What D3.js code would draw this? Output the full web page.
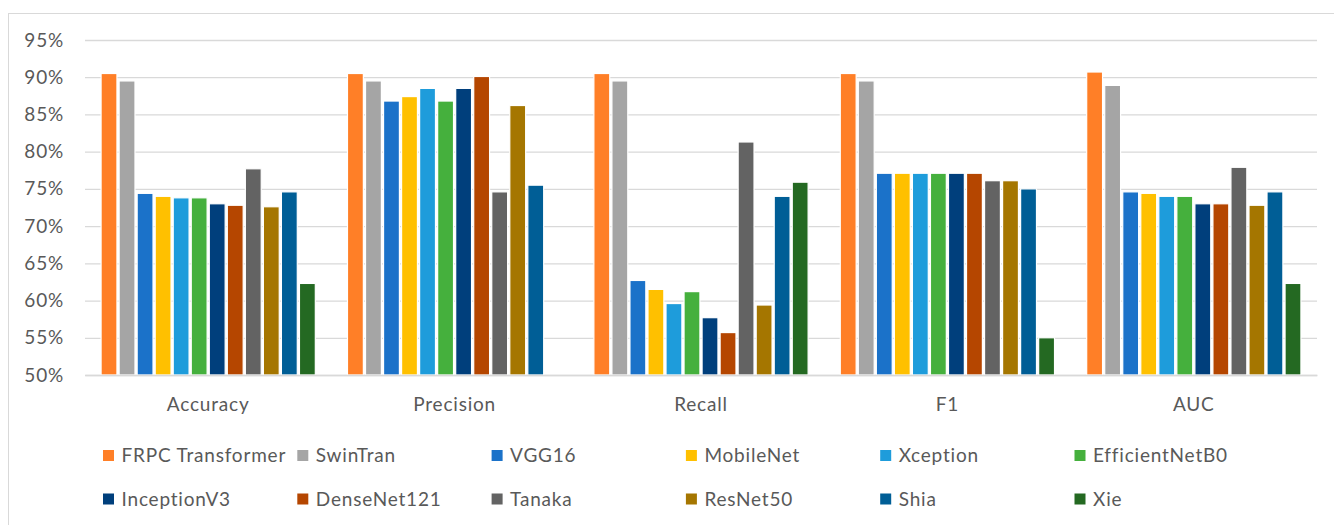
<!DOCTYPE html>
<html>
<head>
<meta charset="utf-8">
<script src="https://cdn.jsdelivr.net/npm/d3@7"></script>
<style>
  html, body { margin: 0; padding: 0; background: #fff; }
  svg { display: block; font-family: Lato, "Open Sans", sans-serif; }
  svg text { letter-spacing: 0.8px; }
</style>
</head>
<body>
<svg id="chart" width="1334" height="525"></svg>
<script>
const categories = ["Accuracy", "Precision", "Recall", "F1", "AUC"];
const seriesNames = ["FRPC Transformer", "SwinTran", "VGG16", "MobileNet", "Xception", "EfficientNetB0",
                     "InceptionV3", "DenseNet121", "Tanaka", "ResNet50", "Shia", "Xie"];
const seriesColors = ["#FF7F27", "#A5A5A5", "#1B72C9", "#FFC000", "#1E9CDB", "#45B03D",
                      "#003F7C", "#B54600", "#636363", "#A57600", "#005E96", "#246922"];
// values per series, order: Accuracy, Precision, Recall, F1, AUC (null = not shown)
const frpc        = [0.905, 0.905, 0.905, 0.905, 0.907];
const swinTran    = [0.895, 0.895, 0.895, 0.895, 0.889];
const vgg16       = [0.744, 0.868, 0.627, 0.771, 0.746];
const mobileNet   = [0.740, 0.874, 0.615, 0.771, 0.744];
const xception    = [0.738, 0.885, 0.596, 0.771, 0.740];
const efficientB0 = [0.738, 0.868, 0.612, 0.771, 0.740];
const inceptionV3 = [0.730, 0.885, 0.577, 0.771, 0.730];
const denseNet121 = [0.728, 0.901, 0.557, 0.771, 0.730];
const tanaka      = [0.777, 0.746, 0.813, 0.761, 0.779];
const resNet50    = [0.726, 0.862, 0.594, 0.761, 0.728];
const shia        = [0.746, 0.755, 0.740, 0.750, 0.746];
const xie         = [0.623, null,  0.759, 0.550, 0.623];
const yTicks = [0.50, 0.55, 0.60, 0.65, 0.70, 0.75, 0.80, 0.85, 0.90, 0.95];

const seriesValues = [frpc, swinTran, vgg16, mobileNet, xception, efficientB0,
                      inceptionV3, denseNet121, tanaka, resNet50, shia, xie];

const svg = d3.select("#chart");
const textColor = "#595959";
const gridColor = "#D9D9D9";
const fontSize = 19;

// chart border
svg.append("rect").attr("x", 8.5).attr("y", 13.5).attr("width", 1340).attr("height", 530)
  .attr("fill", "none").attr("stroke", gridColor).attr("stroke-width", 1);

const plotLeft = 85, plotRight = 1317, plotTop = 40, plotBottom = 375;

const y = d3.scaleLinear().domain([0.5, 0.95]).range([plotBottom, plotTop]);
const x0 = d3.scaleBand().domain(categories).range([plotLeft, plotRight]).padding(0);
const x1 = d3.scaleBand().domain(seriesNames).range([15, x0.bandwidth() - 15])
  .paddingInner(0.12).paddingOuter(0.06);

// y axis with gridlines
const yAxis = svg.append("g").attr("transform", `translate(${plotLeft},0)`)
  .call(d3.axisLeft(y).tickValues(yTicks).tickFormat(d3.format(".0%"))
    .tickSize(-(plotRight - plotLeft)).tickPadding(21));
yAxis.select(".domain").remove();
yAxis.selectAll(".tick line").attr("stroke", gridColor).attr("stroke-width", 1.3);
yAxis.selectAll(".tick text").attr("fill", textColor).attr("font-size", fontSize)
  .attr("font-family", "Lato, sans-serif");

// bars
const groups = svg.append("g").selectAll("g").data(categories).join("g")
  .attr("transform", d => `translate(${x0(d)},0)`);
groups.selectAll("rect")
  .data((c, ci) => seriesNames.map((s, si) => ({ s, si, v: seriesValues[si][ci] }))
    .filter(d => d.v !== null))
  .join("rect")
  .attr("x", d => x1(d.s))
  .attr("width", x1.bandwidth())
  .attr("y", d => y(d.v))
  .attr("height", d => y(0.5) - y(d.v))
  .attr("fill", d => seriesColors[d.si])
  .attr("stroke", "#ffffff").attr("stroke-width", 1.2);

// x axis
const xAxis = svg.append("g").attr("transform", `translate(0,${plotBottom})`)
  .call(d3.axisBottom(x0).tickSize(0).tickPadding(23));
xAxis.select(".domain").attr("stroke", gridColor).attr("stroke-width", 1.3);
xAxis.selectAll(".tick text").attr("fill", textColor).attr("font-size", fontSize)
  .attr("font-family", "Lato, sans-serif");

// legend
const legendX0 = 103, legendStep = 194.3;
const legendRows = [455.5, 499];
const legend = svg.append("g").selectAll("g").data(seriesNames).join("g")
  .attr("transform", (d, i) => `translate(${legendX0 + (i % 6) * legendStep},${legendRows[Math.floor(i / 6)]})`);
legend.append("rect").attr("x", 0).attr("y", -5.5).attr("width", 11).attr("height", 11)
  .attr("fill", (d, i) => seriesColors[i]);
legend.append("text").attr("x", 18.5).attr("y", 0).attr("dy", "0.35em")
  .attr("fill", textColor).attr("font-size", fontSize).text(d => d);
</script>
</body>
</html>
